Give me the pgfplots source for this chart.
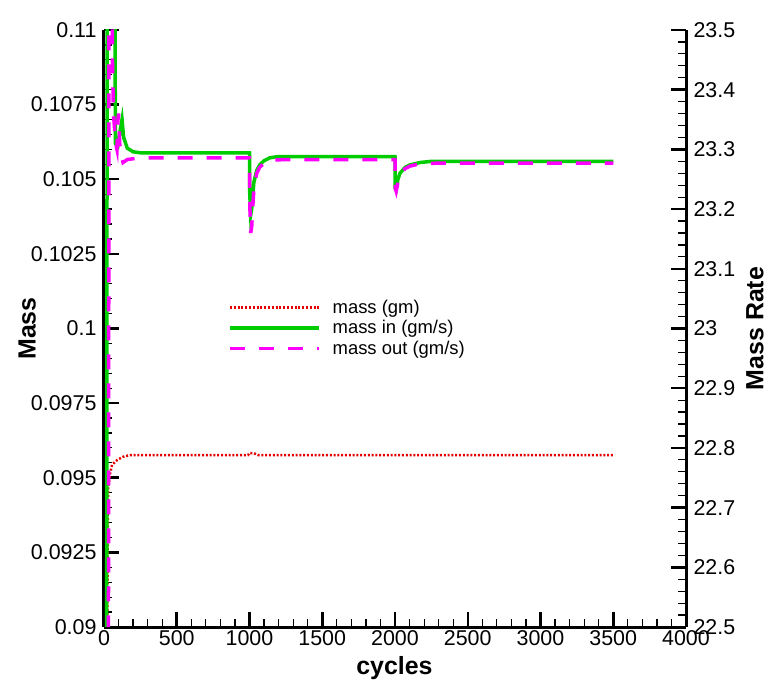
\documentclass[border=0pt]{standalone}
\usepackage{pgfplots}
\pgfplotsset{compat=1.18}
\usepackage{pgfplotstable}
\usepackage{fontspec}
\setmainfont{Liberation Sans}
\definecolor{mgreen}{RGB}{0,204,0}
\definecolor{mmag}{RGB}{255,0,255}
\definecolor{mred}{RGB}{230,0,0}
\pgfplotstableread{
x y
20 0.0885
25 0.0920
28 0.0946
40 0.0951
55 0.09543
89 0.09559
130 0.09570
180 0.09576
990 0.09576
1000 0.09583
1030 0.09582
1060 0.09576
3500 0.09576
}\massdata
\pgfplotstableread{
x y
18 22.3
22 23.7
75 23.7
78 23.31
95 23.305
110 23.33
124 23.35
135 23.32
160 23.302
200 23.296
260 23.294
1000 23.294
1001 23.23
1008 23.19
1015 23.2
1030 23.245
1050 23.265
1070 23.274
1100 23.281
1140 23.286
1200 23.288
2000 23.288
2001 23.235
2008 23.232
2020 23.25
2034 23.26
2070 23.27
2103 23.274
2172 23.278
2250 23.28
3500 23.28
}\massin
\pgfplotstableread{
x y
30 22.3
35 23.7
52 23.7
58 23.45
65 23.36
80 23.31
89 23.30
96 23.35
100 23.36
108 23.31
118 23.29
131 23.278
160 23.283
250 23.286
1000 23.286
1003 23.2
1008 23.16
1015 23.17
1030 23.235
1050 23.26
1070 23.27
1100 23.277
1150 23.282
1250 23.283
2000 23.283
2002 23.235
2008 23.23
2020 23.245
2034 23.258
2070 23.268
2103 23.272
2172 23.276
2300 23.277
3500 23.277
}\massout
\begin{document}
\begin{tikzpicture}
\pgfplotsset{
 common/.style={
  scale only axis, width=582bp, height=597bp,
  xmin=0, xmax=4000,
  tick align=inside,
  major tick length=15bp, minor tick length=8bp,
  every major tick/.append style={line width=2.5bp, black},
  every minor tick/.append style={line width=1.2bp, black},
  axis line style={line width=3bp, black},
  tick label style={font=\fontsize{21.5}{23}\selectfont},
  /pgf/number format/assume math mode=true,
  /pgf/number format/set thousands separator={},
  label style={font=\fontsize{25}{28}\selectfont\bfseries},
  minor tick num=4,
 }
}
\begin{axis}[common, name=a,
  axis x line*=bottom, axis y line*=left,
  ymin=0.09, ymax=0.11,
  ytick={0.09,0.0925,0.095,0.0975,0.1,0.1025,0.105,0.1075,0.11},
  yticklabels={0.09,0.0925,0.095,0.0975,0.1,0.1025,0.105,0.1075,0.11},
  yticklabel style={xshift=-4bp},
  xtick={0,500,...,4000},
  xticklabels={0,500,1000,1500,2000,2500,3000,3500,4000},
  xlabel={cycles}, ylabel={Mass},
  x label style={at={(axis description cs:0.499,-0.0687)}, anchor=center},
  y label style={at={(axis description cs:-0.132,0.5)}, anchor=center},
]
\addplot[mred, line width=2.5bp, dash pattern=on 2bp off 1.8bp] table[x=x,y=y] {\massdata};
\end{axis}
\begin{axis}[common,
  axis x line=none, axis y line*=right,
  ymin=22.5, ymax=23.5,
  ytick={22.5,22.6,22.7,22.8,22.9,23,23.1,23.2,23.3,23.4,23.5},
  yticklabels={22.5,22.6,22.7,22.8,22.9,23,23.1,23.2,23.3,23.4,23.5},
  yticklabel style={xshift=4bp},
  ylabel={Mass Rate},
  y label style={at={(axis description cs:1.1186,0.5)}, anchor=center},
  legend style={draw=none, fill=none, inner sep=0pt, at={(axis description cs:0.213,0.551)}, anchor=north west, font=\fontsize{18.5}{21}\selectfont, row sep=1.5bp, /tikz/every odd column/.append style={column sep=10bp}},
  legend cell align=left,
  legend image code/.code={\draw[#1] (0bp,0bp) -- (89bp,0bp);},
]
\addlegendimage{mred, line width=2.5bp, dash pattern=on 2bp off 1.8bp}
\addlegendentry{mass (gm)}
\addplot[mgreen, line width=3.5bp] table[x=x,y=y] {\massin};
\addlegendentry{mass in (gm/s)}
\addplot[mmag, line width=3.5bp, dash pattern=on 15bp off 14bp] table[x=x,y=y] {\massout};
\addlegendentry{mass out (gm/s)}
\end{axis}
\pgfresetboundingbox
\path ([shift={(-104bp,-59bp)}]a.south west) rectangle ([shift={(82bp,30bp)}]a.north east);
\end{tikzpicture}
\end{document}
